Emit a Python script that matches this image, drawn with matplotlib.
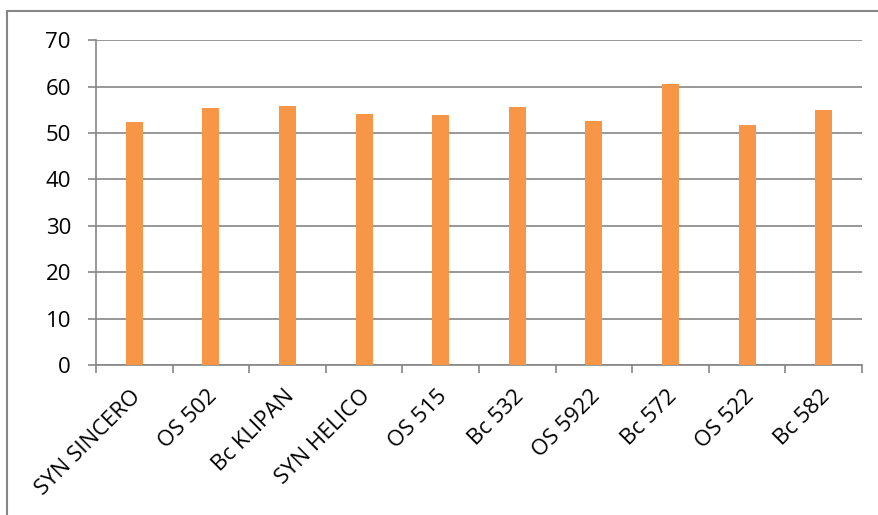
import matplotlib.pyplot as plt
from matplotlib.patches import Rectangle
from matplotlib.transforms import ScaledTranslation
import numpy as np

# dados
categorias = ["SYN SINCERO", "OS 502", "Bc KLIPAN", "SYN HELICO", "OS 515",
              "Bc 532", "OS 5922", "Bc 572", "OS 522", "Bc 582"]
valores = [52.4, 55.4, 55.8, 54.1, 53.9, 55.6, 52.6, 60.6, 51.8, 54.9]

plt.rcParams['font.family'] = ['Open Sans', 'DejaVu Sans']
cinza = "#868686"

fig = plt.figure(figsize=(8.79, 5.15), dpi=100)
ax = fig.add_axes([96 / 879, 1 - 365 / 515, (862 - 96) / 879, (365 - 40.3) / 515])

x = np.arange(len(categorias))
ax.bar(x, valores, width=0.22, color="#F79646", zorder=3)

ax.set_xlim(-0.5, len(categorias) - 0.5)
ax.set_ylim(0, 70)
ax.set_yticks(range(0, 71, 10))
ax.yaxis.grid(True, color=cinza, linewidth=1.2, zorder=0)

ax.set_xticks(x)
ax.set_xticklabels(categorias, rotation=45, ha="right", rotation_mode="anchor")
ax.set_xticks(np.arange(-0.5, len(categorias), 1), minor=True)
ax.tick_params(axis="x", which="major", length=0, pad=15, labelsize=16)
ax.tick_params(axis="x", which="minor", length=6, width=1.2, color=cinza)
ax.tick_params(axis="y", length=6, width=1.2, color=cinza, pad=12, labelsize=16)

# desloca um pouco os rótulos para a esquerda, como no original
desloc = ScaledTranslation(-4 / 100, 0, fig.dpi_scale_trans)
for lbl in ax.get_xticklabels():
    lbl.set_transform(lbl.get_transform() + desloc)

for lado in ["top", "right"]:
    ax.spines[lado].set_visible(False)
for lado in ["left", "bottom"]:
    ax.spines[lado].set_color(cinza)
    ax.spines[lado].set_linewidth(1.2)

# moldura do gráfico (corta à direita e embaixo)
fig.patches.append(Rectangle((7.5 / 879, -0.1), 1.2, 1 - 10.7 / 515 + 0.1,
                             transform=fig.transFigure, fill=False,
                             edgecolor=cinza, linewidth=1.5))

fig.savefig("out.png", dpi=100)
